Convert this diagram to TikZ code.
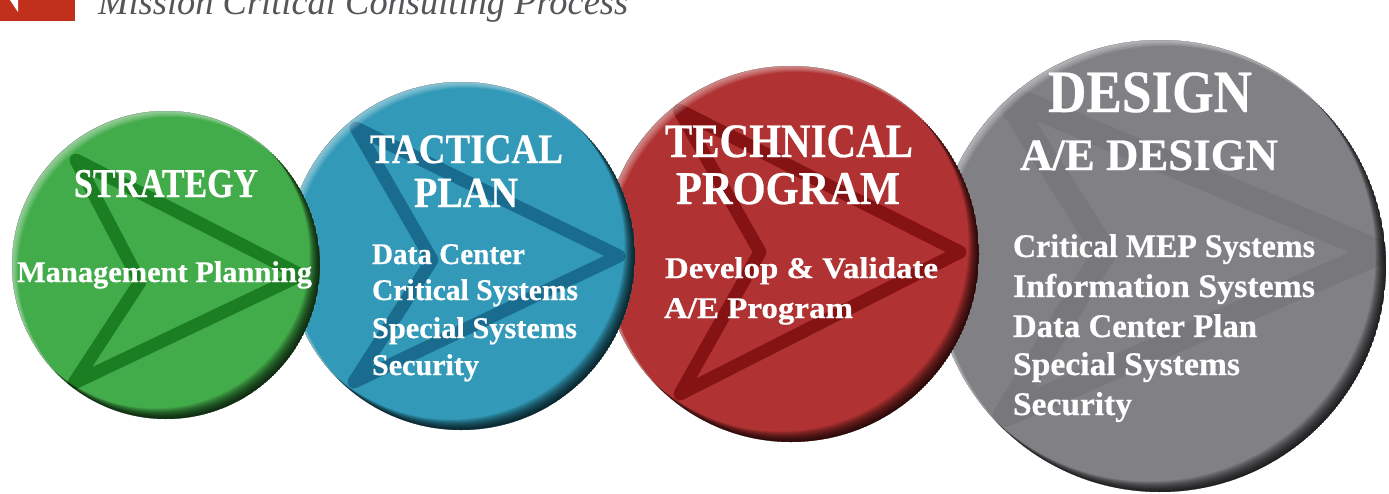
\documentclass[tikz,border=0pt]{standalone}
\usepackage{fontspec}
\setmainfont{Liberation Serif}[BoldFeatures={FakeBold=0.6}]
\usepackage{graphicx}
\definecolor{cgreen}{RGB}{67,172,74}
\definecolor{cgreenD}{RGB}{22,118,28}
\definecolor{cblue}{RGB}{50,154,184}
\definecolor{cblueD}{RGB}{22,100,136}
\definecolor{cred}{RGB}{176,50,50}
\definecolor{credD}{RGB}{126,14,14}
\definecolor{cgrey}{RGB}{128,128,133}
\definecolor{cgreyD}{RGB}{112,112,118}
\definecolor{hdrred}{RGB}{192,48,28}
\definecolor{hdrtext}{RGB}{85,85,90}
\newcommand{\fitline}[3]{\resizebox{#1pt}{\height}{\fontsize{#2pt}{#2pt}\selectfont\bfseries #3}}
\newcommand{\ballshade}[3]{%
  \foreach \k in {1,...,14}{\fill[black,opacity=0.085,even odd rule] (#1,#2) circle (#3pt) ({#1-0.75*\k},{#2-0.75*\k}) circle (#3pt);}%
  \foreach \k in {1,...,8}{\fill[white,opacity=0.07,even odd rule] (#1,#2) circle (#3pt) ({#1+0.75*\k},{#2+0.75*\k}) circle (#3pt);}%
}
\tikzset{
  txt/.style={anchor=base west, inner sep=0pt, outer sep=0pt, text=white},
  chev/.style={line width=13pt, line join=round, line cap=round},
}
\begin{document}
\begin{tikzpicture}[x=1pt,y=-1pt]
\useasboundingbox (0,0) rectangle (1389,493);
\clip (0,0) rectangle (1389,493);
\fill[white] (0,0) rectangle (1389,493);
% header
\fill[hdrred] (0,0) rectangle (75,21);
\fill[white] (10,0) -- (18,0) -- (18,12) -- cycle;
\node[anchor=base west, inner sep=0pt, text=hdrtext] (hdr) at (98,14)
  {\resizebox{530pt}{\height}{\fontsize{37pt}{37pt}\selectfont\itshape Mission Critical Consulting Process}};
% grey ball
\begin{scope}
\clip (1160,266) circle (226pt);
\fill[cgrey] (1160,266) circle (226pt);
\draw[cgreyD, line width=24pt, line join=round, opacity=0.55] (1005,95) -- (1380,252) -- (1005,415) -- (1105,252) -- cycle;
\ballshade{1160}{266}{226}
\end{scope}
% red ball
\begin{scope}
\clip (791,254) circle (188pt);
\fill[cred] (791,254) circle (188pt);
\draw[credD, chev, opacity=0.85] (679,110) -- (960,252) -- (680,394) -- (760,252) -- cycle;
\ballshade{791}{254}{188}
\end{scope}
% blue ball
\begin{scope}
\clip (461,256) circle (174pt);
\fill[cblue] (461,256) circle (174pt);
\draw[cblueD, chev, opacity=0.85] (356,128) -- (619,256) -- (354,382) -- (432,260) -- cycle;
\ballshade{461}{256}{174}
\end{scope}
% green ball
\begin{scope}
\clip (166,265) circle (154pt);
\fill[cgreen] (166,265) circle (154pt);
\draw[cgreenD, chev, opacity=0.85] (76,160) -- (301,275) -- (74,383) -- (140,282) -- cycle;
\ballshade{166}{265}{154}
\end{scope}
% green text
\node[txt] (g1) at (74,197) {\fitline{184}{41}{STRATEGY}};
\node[txt] (g2) at (17,282) {\fitline{295}{30}{Management Planning}};
% blue text
\node[txt] (b1) at (370,163) {\fitline{193}{42}{TACTICAL}};
\node[txt] (b2) at (414,207) {\fitline{104}{43}{PLAN}};
\node[txt] (b3) at (372,264) {\fitline{153}{30}{Data Center}};
\node[txt] (b4) at (372,300) {\fitline{206}{30}{Critical Systems}};
\node[txt] (b5) at (372,338) {\fitline{205}{30}{Special Systems}};
\node[txt] (b6) at (372,375) {\fitline{107}{30}{Security}};
% red text
\node[txt] (r1) at (665,157) {\fitline{248}{48}{TECHNICAL}};
\node[txt] (r2) at (676,204) {\fitline{224}{47}{PROGRAM}};
\node[txt] (r3) at (665,278) {\fitline{273}{30}{Develop \& Validate}};
\node[txt] (r4) at (664,318) {\fitline{189}{30}{A/E Program}};
% grey text
\node[txt] (d1) at (1048,112) {\fitline{204}{60}{DESIGN}};
\node[txt] (d2) at (1020,170) {\fitline{258}{45}{A/E DESIGN}};
\node[txt] (d3) at (1013,257) {\fitline{302}{33}{Critical MEP Systems}};
\node[txt] (d4) at (1013,297) {\fitline{302}{33}{Information Systems}};
\node[txt] (d5) at (1013,337) {\fitline{244}{33}{Data Center Plan}};
\node[txt] (d6) at (1013,375) {\fitline{227}{33}{Special Systems}};
\node[txt] (d7) at (1013,415) {\fitline{119}{33}{Security}};
\end{tikzpicture}
\end{document}
